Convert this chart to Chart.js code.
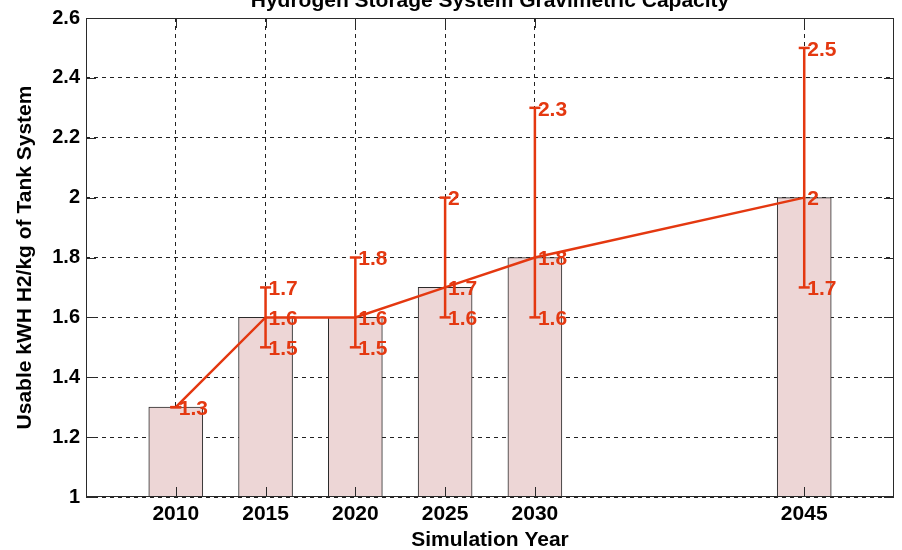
<!DOCTYPE html>
<html>
<head>
<meta charset="utf-8">
<script src="https://cdn.jsdelivr.net/npm/chart.js@4"></script>
<style>
html, body { margin: 0; padding: 0; background: #fff; overflow: hidden; }
</style>
</head>
<body>
<canvas id="h2Chart" width="902" height="550"></canvas>
<script>
// values
const years = [2010, 2015, 2020, 2025, 2030, 2045];
const expected = [1.3, 1.6, 1.6, 1.7, 1.8, 2.0];
const low = [1.3, 1.5, 1.5, 1.6, 1.6, 1.7];
const high = [1.3, 1.7, 1.8, 2.0, 2.3, 2.5];
const yTicks = [1, 1.2, 1.4, 1.6, 1.8, 2, 2.2, 2.4, 2.6];

const red = 'rgb(228,56,16)';
const fam = '"Liberation Sans", Arial, sans-serif';

// error bar segments, broken with nulls
const errSegments = [];
years.forEach((yr, i) => {
  errSegments.push({ x: yr, y: low[i] }, { x: yr, y: high[i] }, { x: yr, y: null });
});
const capPoints = [];
years.forEach((yr, i) => {
  capPoints.push({ x: yr, y: low[i] }, { x: yr, y: high[i] });
});

const framePlugin = {
  id: 'frame',
  afterDatasetsDraw(chart) {
    const { ctx, chartArea: a, scales: { x, y } } = chart;
    ctx.save();

    // value labels
    ctx.fillStyle = red;
    ctx.font = 'bold 21px ' + fam;
    ctx.textAlign = 'left';
    ctx.textBaseline = 'middle';
    years.forEach((yr, i) => {
      const px = x.getPixelForValue(yr) + 3;
      const vals = [...new Set([low[i], expected[i], high[i]])];
      vals.forEach(v => ctx.fillText(String(v), px, y.getPixelForValue(v) + 2));
    });

    // box and inward ticks
    ctx.strokeStyle = '#2a2a2a';
    ctx.lineWidth = 1;
    ctx.strokeRect(Math.round(a.left) + 0.5, Math.round(a.top) + 0.5,
      Math.round(a.right - a.left) - 1, Math.round(a.bottom - a.top) - 1);
    const tl = 10;
    ctx.beginPath();
    years.forEach(yr => {
      const px = Math.round(x.getPixelForValue(yr)) + 0.5;
      ctx.moveTo(px, a.bottom); ctx.lineTo(px, a.bottom - tl);
      ctx.moveTo(px, a.top); ctx.lineTo(px, a.top + tl);
    });
    yTicks.forEach(v => {
      const py = Math.round(y.getPixelForValue(v)) + 0.5;
      ctx.moveTo(a.left, py); ctx.lineTo(a.left + tl, py);
      ctx.moveTo(a.right, py); ctx.lineTo(a.right - tl, py);
    });
    ctx.stroke();

    // title (mostly cut off at the top edge)
    ctx.fillStyle = '#000';
    ctx.font = 'bold 21px ' + fam;
    ctx.textAlign = 'center';
    ctx.textBaseline = 'alphabetic';
    ctx.fillText('Hydrogen Storage System Gravimetric Capacity', (a.left + a.right) / 2, 7);
    ctx.restore();
  }
};

new Chart(document.getElementById('h2Chart').getContext('2d'), {
  type: 'bar',
  data: {
    datasets: [
      {
        type: 'bar',
        data: years.map((yr, i) => ({ x: yr, y: expected[i] })),
        backgroundColor: 'rgb(237,214,214)',
        borderColor: '#2a2a2a',
        borderWidth: 1,
        barThickness: 54,
        order: 4
      },
      {
        type: 'line',
        data: errSegments,
        borderColor: red,
        borderWidth: 2.5,
        pointRadius: 0,
        spanGaps: false,
        fill: false,
        order: 3
      },
      {
        type: 'line',
        data: years.map((yr, i) => ({ x: yr, y: expected[i] })),
        borderColor: red,
        borderWidth: 2.5,
        pointRadius: 0,
        tension: 0,
        fill: false,
        order: 2
      },
      {
        type: 'line',
        data: capPoints,
        showLine: false,
        pointStyle: 'line',
        pointRadius: 5.5,
        pointBorderWidth: 2.5,
        pointBorderColor: red,
        order: 1
      }
    ]
  },
  options: {
    responsive: false,
    animation: false,
    devicePixelRatio: 1,
    layout: { padding: { top: 17, right: 6, left: 0, bottom: 0 } },
    plugins: { legend: { display: false }, tooltip: { enabled: false } },
    scales: {
      x: {
        type: 'linear',
        min: 2005,
        max: 2050,
        offset: false,
        afterBuildTicks: s => { s.ticks = years.map(v => ({ value: v })); },
        afterFit: s => { s.height = 53; },
        grid: { color: '#222', drawTicks: false, offset: false },
        border: { display: false, dash: [4, 4] },
        ticks: {
          padding: 5,
          color: '#000',
          font: { family: fam, size: 21, weight: 'bold' },
          callback: v => String(v)
        },
        title: {
          display: true,
          text: 'Simulation Year',
          color: '#000',
          font: { family: fam, size: 21, weight: 'bold', lineHeight: 0.9 },
          padding: { top: 0, bottom: 0.5 }
        }
      },
      y: {
        min: 1,
        max: 2.6,
        afterBuildTicks: s => { s.ticks = yTicks.map(v => ({ value: v })); },
        afterFit: s => { s.width = 86; },
        grid: { color: '#222', drawTicks: false },
        border: { display: false, dash: [4, 4] },
        ticks: {
          padding: 6,
          color: '#000',
          font: { family: fam, size: 20, weight: 'bold' },
          callback: v => String(Math.round(v * 10) / 10)
        },
        title: {
          display: true,
          text: 'Usable kWH H2/kg of Tank System',
          color: '#000',
          font: { family: fam, size: 21, weight: 'bold' },
          padding: { top: 13, bottom: 0 }
        }
      }
    }
  },
  plugins: [framePlugin]
});
</script>
</body>
</html>
